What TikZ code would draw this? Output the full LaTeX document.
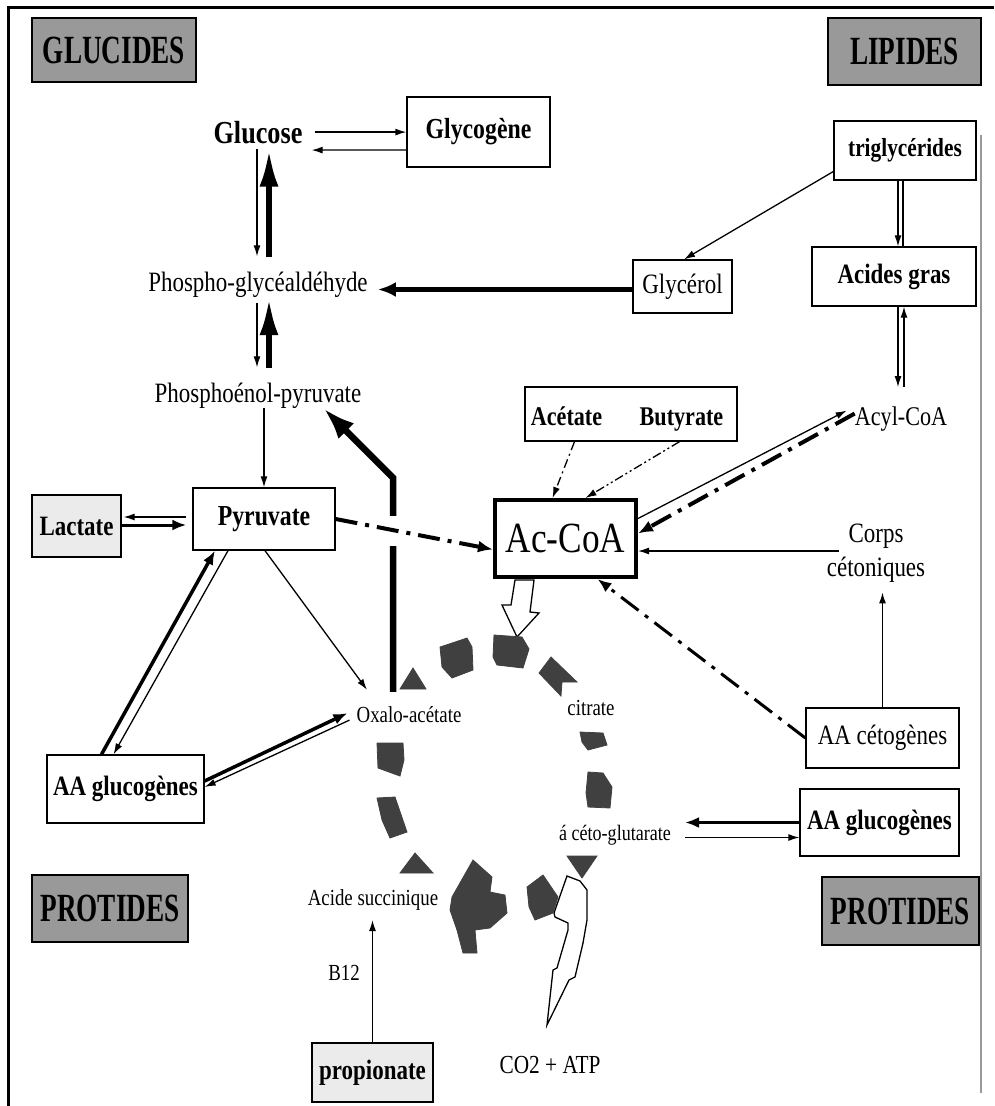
\documentclass[tikz,border=0pt]{standalone}
\usepackage{fontspec}
\setmainfont[FakeStretch=0.82]{Liberation Serif}
\newfontfamily\tagfont[FakeStretch=0.68]{Liberation Serif}
\usetikzlibrary{arrows.meta}
\newcommand{\fsz}[1]{\fontsize{#1}{#1}\selectfont}
\tikzset{
  box/.style={draw, line width=1.3pt, inner sep=0pt, font=\bfseries\fsz{28}},
  tag/.style={draw, line width=1.6pt, fill=black!40, inner sep=0pt, font=\tagfont\bfseries\fsz{40}},
  lbl/.style={inner sep=0pt, anchor=base, font=\fsz{28}},
  cyc/.style={inner sep=0pt, anchor=base, font=\fsz{23}},
  fine/.style={line width=1.3pt},
  fatarrow/.style={line width=3.5pt, -{Latex[length=14pt,width=11pt]}},
  bigarrow/.style={line width=6pt, -{Latex[length=38pt,width=19pt]}},
  dchain/.style={dash pattern=on 22pt off 8pt on 4pt off 8pt},
  blob/.style={fill=black!75, draw=black!75, line width=0.8pt},
}
\begin{document}
\begin{tikzpicture}[x=1pt,y=-1pt,>={Latex[length=11pt,width=7pt]}]
\useasboundingbox (0,0) rectangle (994,1106);

% frame
\draw[line width=3pt] (8,1106) -- (8,7) -- (994,7);
\draw[black!40,line width=1.5pt] (981,135) -- (981,1093);

% headings
\node[tag,minimum width=164pt,minimum height=64pt] (glucides) at (114,50) {GLUCIDES};
\node[tag,minimum width=153pt,minimum height=67pt] (lipides) at (904.5,51.5) {LIPIDES};
\node[tag,minimum width=156pt,minimum height=67pt] (protidesL) at (110,908.5) {PROTIDES};
\node[tag,minimum width=157pt,minimum height=68pt] (protidesR) at (900.5,911) {PROTIDES};

% glucides
\node[lbl,font=\bfseries\fsz{32}] (glucose) at (258,143) {Glucose};
\node[box,minimum width=143pt,minimum height=70pt,font=\bfseries\fsz{29}] (glycogene) at (478.5,132) {Glycogène};
\node[lbl] (pga) at (258,291) {Phospho-glycéaldéhyde};
\node[lbl] (pep) at (258,402) {Phosphoénol-pyruvate};
\node[box,minimum width=142pt,minimum height=62pt,font=\bfseries\fsz{29}] (pyruvate) at (264,519) {Pyruvate};
\node[box,fill=black!8,minimum width=89pt,minimum height=62pt] (lactate) at (76.5,526) {Lactate};

% lipides
\node[box,minimum width=142pt,minimum height=59pt,font=\bfseries\fsz{26}] (trigly) at (905,150.5) {triglycérides};
\node[box,minimum width=164pt,minimum height=59pt] (acgras) at (894,276.5) {Acides gras};
\node[box,font=\fsz{28},minimum width=99pt,minimum height=53pt] (glycerol) at (682.5,286.5) {Glycérol};
\node[lbl,font=\fsz{27}] (acylcoa) at (901,425) {Acyl-CoA};
\node[lbl,anchor=center,align=center,font=\fontsize{28}{34}\selectfont] (corps) at (876,553) {Corps\\cétoniques};

% centre
\node[box,minimum width=212pt,minimum height=54pt] (acebut) at (631,414) {};
\node[lbl,font=\bfseries\fsz{27}] (acetate) at (566.5,425) {Acétate};
\node[lbl,font=\bfseries\fsz{27}] (butyrate) at (681.5,425) {Butyrate};
\node[box,line width=4pt,font=\fsz{43},minimum width=141pt,minimum height=77pt] (accoa) at (565.5,538.5) {Ac-CoA};

% protides
\node[box,font=\fsz{28},minimum width=153pt,minimum height=60pt] (acceto) at (882.5,738) {AA cétogènes};
\node[box,minimum width=159pt,minimum height=67pt] (aaglucoR) at (879.5,822.5) {AA glucogènes};
\node[box,minimum width=157pt,minimum height=68pt] (aaglucoL) at (125.5,789) {AA glucogènes};
\node[box,fill=black!8,minimum width=121pt,minimum height=59pt] (propio) at (372.5,1072.5) {propionate};

% cycle
\node[cyc] (oxalo) at (409,722) {Oxalo-acétate};
\node[cyc] (citrate) at (591,715) {citrate};
\node[cyc,font=\fsz{22}] (cetoglu) at (615,840) {á céto-glutarate};
\node[cyc] (succin) at (373,905) {Acide succinique};
\node[cyc] (b12) at (344,980) {B12};
\node[lbl,font=\fsz{26}] (co2) at (550,1073) {CO2 + ATP};

\draw[->,fine] ([xshift=12pt]glucose.east) -- (glycogene.west |- glucose.east);
\draw[->,fine] ([yshift=-18pt]glycogene.west) -- ([xshift=9pt,yshift=-18pt]glucose.east);

\draw[->,fine] ([xshift=-1pt,yshift=-5pt]glucose.south) -- ([xshift=-1pt,yshift=15pt]pga.north);
\draw[bigarrow] ([xshift=11pt,yshift=14pt]pga.north) -- ([xshift=11pt,yshift=-5pt]glucose.south);
\draw[->,fine] ([xshift=-1pt,yshift=-6pt]pga.south) -- ([xshift=-1pt,yshift=15pt]pep.north);
\draw[bigarrow] ([xshift=11pt,yshift=14pt]pep.north) -- ([xshift=11pt]pga.south);

\draw[line width=4.5pt,-{Latex[length=18pt,width=15pt]}] ([yshift=-3pt]glycerol.west) -- ([xshift=10pt,yshift=-3pt]glycerol.west -| pga.east);

\draw[->,fine] ([yshift=-21pt]trigly.west) -- ([xshift=1.5pt]glycerol.north);
\draw[->,fine] ([xshift=-7pt]trigly.south) -- ([xshift=-7pt]trigly.south |- acgras.north);
\draw[fine] ([xshift=-2pt]trigly.south) -- ([xshift=-2pt]trigly.south |- acgras.north);

\draw[->,fine] ([xshift=-3pt]acylcoa.north |- acgras.south) -- ([xshift=-3pt,yshift=19pt]acylcoa.north);
\draw[->,fine] ([xshift=3pt,yshift=19pt]acylcoa.north) -- ([xshift=3pt]acylcoa.north |- acgras.south);

\draw[->,fine] ([yshift=20pt]accoa.east) -- ([xshift=-8pt,yshift=8pt]acylcoa.west);
\draw[line width=4pt,dchain,-{Latex[length=15pt,width=12pt]}] ([yshift=5pt]acylcoa.west) -- ([yshift=5pt]accoa.east);

\draw[->,fine] ([xshift=12pt,yshift=2pt]corps.west) -- ([yshift=2pt]corps.west -| accoa.east);
\draw[->,fine] (acceto.north) -- ([yshift=-10pt]acceto.north |- corps.south);
\draw[line width=3pt,dchain,-{Latex[length=14pt,width=11pt]}] (acceto.west) -- ([xshift=32pt]accoa.south);

\draw[->,fine,dash pattern=on 9pt off 4pt on 2pt off 4pt] ([xshift=8pt]acetate.south |- acebut.south) -- ([xshift=-13pt]accoa.north);
\draw[->,fine,dash pattern=on 9pt off 3pt on 2pt off 3pt on 2pt off 3pt] ([xshift=-2pt]butyrate.south |- acebut.south) -- ([xshift=20pt]accoa.north);

\draw[->,fine] (pyruvate.north |- pep.south) -- (pyruvate.north);
\draw[line width=6.5pt,line join=miter,-{Latex[length=32pt,width=22pt]}] ([xshift=-16pt,yshift=14pt]oxalo.north) -- ++(0,-214) -- ([xshift=-38pt]pep.south east);
\fill[white] (387,516) rectangle (400,546);
\draw[line width=4pt,dchain,-{Latex[length=15pt,width=12pt]}] (pyruvate.east) -- ([yshift=-11pt]accoa.west);

\draw[->,fine] ([xshift=1pt]pyruvate.south) -- ([xshift=-42pt,yshift=16pt]oxalo.north);
\draw[fatarrow] ([xshift=-24pt]aaglucoL.north) -- ([xshift=-49pt]pyruvate.south);
\draw[->,fine] ([xshift=-36pt]pyruvate.south) -- ([xshift=-12pt]aaglucoL.north);
\draw[fatarrow] ([yshift=8pt]aaglucoL.east) -- ([xshift=-9pt,yshift=1pt]oxalo.west);
\draw[->,fine] ([xshift=-7pt,yshift=-6pt]oxalo.west) -- ([yshift=2pt]aaglucoL.east);

\draw[->,fine] ([xshift=-6pt,yshift=2pt]pyruvate.west) -- ([xshift=2pt,yshift=2pt]pyruvate.west -| lactate.east);
\draw[fatarrow,line width=3pt] ([yshift=1pt]lactate.east) -- ([xshift=-6pt,yshift=1pt]lactate.east -| pyruvate.west);

\draw[fatarrow] (aaglucoR.west) -- ([xshift=14pt]aaglucoR.west -| cetoglu.east);
\draw[->,fine] ([xshift=14pt,yshift=-15pt]aaglucoR.west -| cetoglu.east) -- ([yshift=-15pt]aaglucoR.west);

\draw[->,fine] (propio.north) -- ([yshift=-10pt]propio.north |- succin.south);

% hollow arrow into the cycle
\draw[fine,fill=white] ([xshift=-50.5pt,yshift=-1pt]accoa.south) -- ++(-4,25) -- ++(-9,0) -- ++(15,32) -- ++(22,-24) -- ++(-9,-1) -- ++(4,-32) -- cycle;

% bolt
\draw[fine,fill=white] (567,876) -- (580,881) -- (587,890) -- (587,920) -- (583,943) -- (575,977) -- (569,980) -- (547,1025) -- (553,970) -- (557,968) -- (568,930) -- (568,923) -- (555,917) -- (554,913) -- cycle;

% cycle pieces
\filldraw[blob] (400,689) -- (413,668) -- (426,689) -- cycle;
\filldraw[blob] (440,647) -- (467,638) -- (472,647) -- (473,670) -- (452,678) -- (442,667) -- cycle;
\filldraw[blob] (494,635) -- (522,637) -- (529,649) -- (523,668) -- (497,665) -- (493,657) -- cycle;
\filldraw[blob] (539,673) -- (551,657) -- (577,682) -- (562,682) -- (561,696) -- cycle;
\filldraw[blob] (580,732) -- (603,733) -- (607,745) -- (588,750) -- (582,742) -- cycle;
\filldraw[blob] (588,772) -- (603,773) -- (612,787) -- (610,808) -- (588,807) -- (586,793) -- cycle;
\filldraw[blob] (567,856) -- (597,856) -- (582,878) -- cycle;
\filldraw[blob] (527,887) -- (543,875) -- (558,897) -- (553,913) -- (535,920) -- (529,907) -- cycle;
\filldraw[blob] (452,897) -- (473,860) -- (492,877) -- (490,892) -- (505,895) -- (507,913) -- (490,928) -- (475,930) -- (477,953) -- (463,953) -- (457,930) -- (450,910) -- cycle;
\filldraw[blob] (400,873) -- (415,853) -- (433,873) -- cycle;
\filldraw[blob] (377,743) -- (403,743) -- (404,760) -- (400,776) -- (378,768) -- cycle;
\filldraw[blob] (377,798) -- (395,797) -- (407,832) -- (390,838) -- (382,820) -- cycle;
\end{tikzpicture}
\end{document}
